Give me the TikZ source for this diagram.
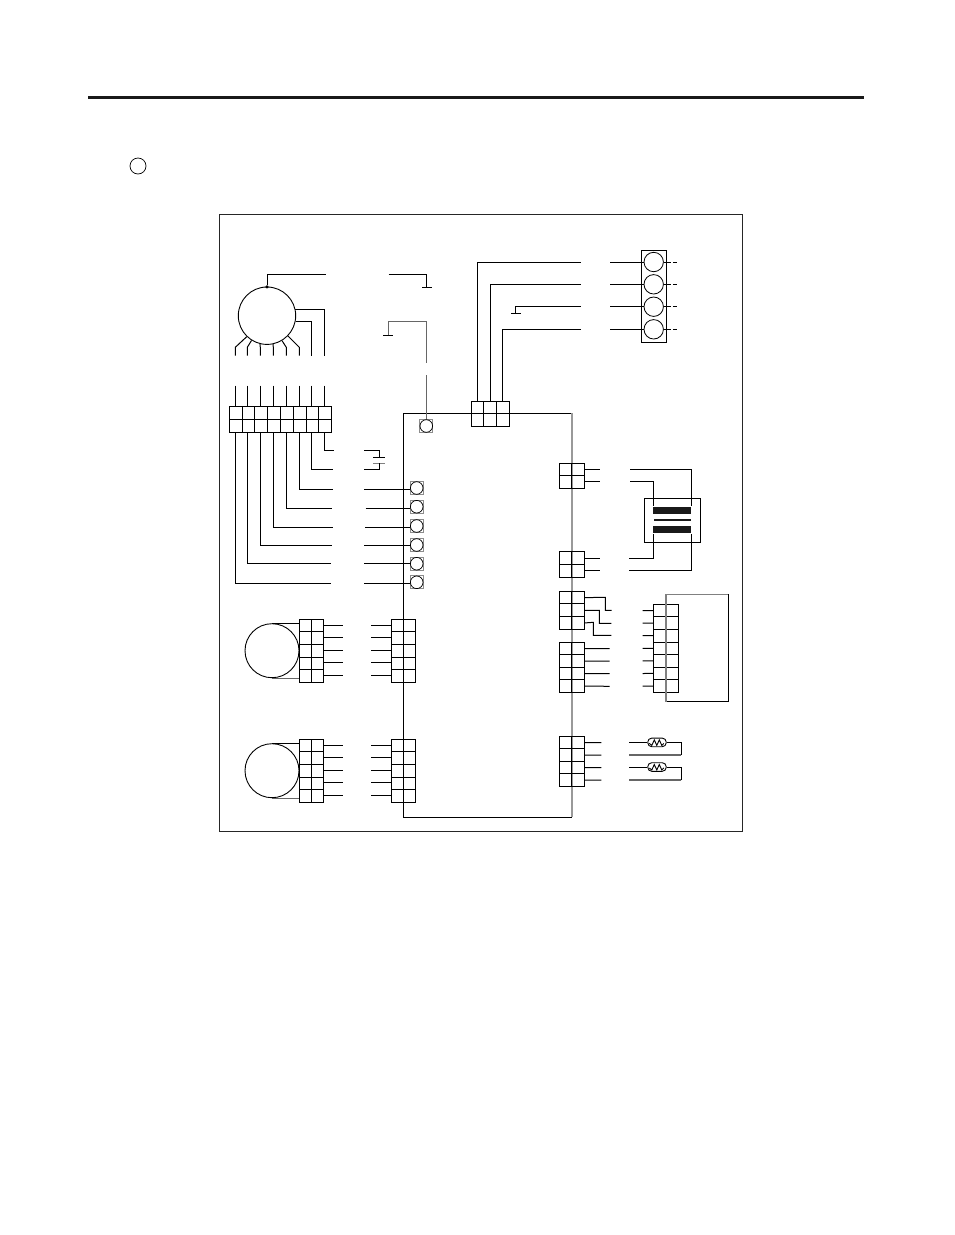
\documentclass[tikz,border=0pt]{standalone}

\begin{document}
\begin{tikzpicture}[x=1pt,y=-1pt]
	\tikzstyle{wire} = [line width=1pt, black]
	\tikzstyle{palewire} = [line width=1.3pt, black!60]
	\tikzstyle{cell} = [rectangle, draw=black, line width=1pt, inner sep=0pt, outer sep=0pt]
	\tikzstyle{plate} = [rectangle, fill=black, inner sep=0pt, minimum width=10pt, minimum height=1pt]
	\tikzstyle{coilbar} = [rectangle, fill=black!90, inner sep=0pt, minimum width=38pt]
	\tikzstyle{motor} = [circle, draw=black, line width=0.9pt, inner sep=0pt]
	\tikzstyle{socketbox} = [rectangle, draw=black!45, line width=1pt, inner sep=0pt, minimum size=13.3pt]
	\tikzstyle{socket} = [circle, draw=black, line width=0.7pt, inner sep=0pt, minimum size=12.6pt]
	\tikzstyle{lamp} = [circle, draw=black, line width=0.8pt, inner sep=0pt, minimum size=19.4pt]
	\tikzstyle{therm} = [rectangle, rounded corners=4pt, draw=black, line width=0.9pt, inner sep=0pt, minimum width=18.5pt, minimum height=8.6pt]

	\useasboundingbox (0,0) rectangle (954,1235);

%----------page rule, mark, frame------------------------------
	\coordinate (rulea) at (88,97);
	\coordinate (ruleb) at (864,97);
	\draw[line width=3pt, black!90] (rulea)--(ruleb);
	\node[circle, draw=black, line width=0.7pt, inner sep=0pt, minimum size=16pt] (mark) at (138,166) {};
	\draw[line width=0.9pt, black!85] (219.5,214.5) rectangle (742.5,831.5);

%----------board------------------------------------------------
	\coordinate (bnw) at (403.4,413.3);
	\coordinate (bne) at (571.8,413.3);
	\coordinate (bse) at (571.8,817.3);
	\coordinate (bsw) at (403.4,817.3);
	\draw[wire] (bne)--(bnw)--(bsw)--(bse);
	\draw[line width=1.6pt, black!40] (bne)--(bse);

%----------all connector blocks---------------------------------
	\foreach \b/\x/\y/\nc/\nr/\px/\py in {ja/229.3/406.3/8/2/12.8/13, jt/471.3/401.3/3/2/12.67/12.5,
		jra/559.3/463.3/2/2/12.5/12.5, jrb/559.3/551.3/2/2/12.5/13, jrc/559.3/591.3/2/3/12.5/12.67,
		jrd/559.3/642.3/2/4/12.5/12.5, jre/559.3/736.3/2/4/12.5/12.5, jf/653.3/604.3/2/7/12.5/12.57,
		jma/299/619.3/2/5/12.35/12.6, jpa/391.3/619.3/2/5/12.2/12.6,
		jmb/299/739.3/2/5/12.35/12.6, jpb/391.3/739.3/2/5/12.2/12.6}
		\foreach \c in {1,...,\nc}
			\foreach \r in {1,...,\nr}
				\node[cell, minimum width=\px pt, minimum height=\py pt] (\b-\c-\r) at ({\x+(\c-.5)*\px},{\y+(\r-.5)*\py}) {};

%----------big motor--------------------------------------------
	\node[motor, minimum size=57.4pt] (bigm) at (267,315.7) {};
	\node[circle, fill=black, inner sep=0pt, minimum size=3.4pt] (bigdot) at (267,286.9) {};
	\coordinate (bigt) at (326,274.3);
	\draw[wire] (bigdot) |- (bigt);

	\coordinate (bige1) at (324.3,355.5);
	\coordinate (bige2) at (311.5,355.5);
	\draw[wire] (bigm.13) -| (bige1);
	\draw[wire] (bigm.-12) -| (bige2);
	\foreach \a/\x [count=\i] in {226/235.3, 238.5/247.3, 256.5/260.3, 282.7/273.3, 301.6/286.3, 316/299.3}
	{
		\coordinate (bigk\i) at (\x,347.3);
		\coordinate (bigl\i) at (\x,355.5);
		\draw[wire] (bigm.\a)--(bigk\i)--(bigl\i);
	}

%----------wires of the long block-------------------------------
	\foreach \x [count=\i] in {235.3, 247.3, 260.3, 273.3, 286.3, 299.3, 311.5, 324.3}
	{
		\coordinate (jat\i) at (\x,385.7);
		\draw[wire] (jat\i)--(jat\i |- ja-\i-1.north);
	}
	\foreach \i/\x/\y/\e in {8/324.3/450.3/333.7, 7/311.5/469.3/332.7, 6/299.3/489.3/332.7, 5/286.3/508.3/332.3,
		4/273.3/527.3/332.5, 3/260.3/545.3/332, 2/247.3/563.3/331, 1/235.3/583.3/331}
	{
		\coordinate (jak\i) at (\x,\y);
		\coordinate (jae\i) at (\e,\y);
		\draw[wire] (jak\i |- ja-\i-2.south)--(jak\i)--(jae\i);
	}

%----------sockets on the board----------------------------------
	\foreach \i/\y/\w/\s in {1/488/489.3/364.3, 2/506.7/508.3/365.7, 3/526/527.3/365, 4/545/545.3/364.3, 5/563.7/563.3/364, 6/582.3/583.3/364}
	{
		\node[socketbox] (s\i) at (416.7,\y) {};
		\node[socket] (sc\i) at (416.7,\y) {};
		\coordinate (sl\i) at (\s,\w);
		\draw[wire] (sl\i)--(sl\i -| s\i.west);
	}
	\node[socketbox] (s0) at (426.3,426) {};
	\node[socket] (sc0) at (426.3,426) {};

%----------grounds and capacitor----------------------------------
	\coordinate (gaa) at (388.7,274.3);
	\node[plate] (gab) at (426.8,287.3) {};
	\draw[wire] (gaa) -| (gab.center);

	\node[plate] (gba) at (388.3,335.3) {};
	\coordinate (gbb) at (426.3,362.7);
	\coordinate (gbc) at (426.3,375);
	\draw[palewire] (gba.center) |- (gbb |- 0,321.7) -- (gbb);
	\draw[palewire] (gbc)--(s0.north);

	\coordinate (capa) at (364.3,450.3);
	\coordinate (capb) at (364.3,469.3);
	\node[plate, minimum width=12pt] (capc) at (379,457.3) {};
	\node[plate, minimum width=12pt, fill=black!50] (capd) at (379,463.3) {};
	\draw[wire] (capa) -| (capc.center);
	\draw[wire] (capb) -| (capd.center);

%----------top block and lamps------------------------------------
	\coordinate (lta) at (580.7,262.3);
	\coordinate (ltb) at (580.7,284.3);
	\coordinate (ltd) at (580.7,329);
	\coordinate (ltc) at (580.7,306.3);
	\draw[wire] (lta) -| (jt-1-1.north);
	\draw[wire] (ltb) -| (jt-2-1.north);
	\draw[wire] (ltd) -| (jt-3-1.north);
	\node[plate] (gc) at (515.7,313) {};
	\draw[wire] (ltc) -| (gc.center);

	\node[rectangle, draw=black, line width=1pt, inner sep=0pt, minimum width=24.6pt, minimum height=92pt] (lampbox) at (654,296.3) {};
	\foreach \i/\y in {1/262, 2/284.3, 3/306.7, 4/329.3}
	{
		\node[lamp] (l\i) at (653.7,\y) {};
		\coordinate (lw\i) at (610,\y);
		\coordinate (le\i) at (677.3,\y);
		\draw[wire] (lw\i)--(l\i.west);
		\draw[line width=1pt, dash pattern=on 6.7pt off 2.3pt on 5pt off 20pt] (l\i.east)--(le\i);
	}

%----------transformer--------------------------------------------
	\node[rectangle, draw=black, line width=1pt, inner sep=0pt, minimum width=56pt, minimum height=44pt] (trafo) at (672.3,520.3) {};
	\node[coilbar, minimum height=7.3pt] (coila) at (672.3,510.3) {};
	\node[coilbar, minimum height=2pt, minimum width=37pt] (core) at (672.5,520) {};
	\node[coilbar, minimum height=7pt] (coilb) at (672.3,529.8) {};

	\foreach \n/\r/\y in {a/1/469.3, b/2/481.3}
	{
		\coordinate (tl\n) at (600,\y);
		\draw[wire] (jra-2-\r.east |- tl\n)--(tl\n);
	}
	\foreach \n/\r/\y in {c/1/558.3, d/2/570.3}
	{
		\coordinate (tl\n) at (600,\y);
		\draw[wire] (jrb-2-\r.east |- tl\n)--(tl\n);
	}
	\coordinate (tra) at (630.3,469.3);
	\coordinate (trb) at (630.3,481.3);
	\coordinate (trc) at (629.3,558.3);
	\coordinate (trd) at (629.3,570.3);
	\draw[wire] (tra) -| (coila.north east);
	\draw[wire] (trb) -| (coila.north west);
	\draw[wire] (trc) -| (coilb.south west);
	\draw[wire] (trd) -| (coilb.south east);

%----------right blocks---------------------------------------------
	\coordinate (cka) at (605.3,597.3);
	\coordinate (ckb) at (599.3,610.3);
	\coordinate (ckc) at (593.3,622.3);
	\coordinate (cla) at (611.7,610.3);
	\coordinate (clb) at (611.3,623.3);
	\coordinate (clc) at (611.3,635.3);
	\draw[wire] (jrc-2-1.east) -- (cka) |- (cla);
	\draw[wire] (jrc-2-2.east) -- (ckb) |- (clb);
	\draw[wire] (jrc-2-3.east) -- (ckc) |- (clc);
	\foreach \r in {1,...,4}
	{
		\coordinate (cd\r) at (609.7,{648.5+(\r-1)*12.6});
		\draw[wire] (jrd-2-\r.east)--(cd\r);
	}
	\foreach \r in {1,...,7}
	{
		\coordinate (cf\r) at (642.7,{610.5+(\r-1)*12.6});
		\draw[wire] (cf\r)--(jf-1-\r.west);
	}
	\coordinate (fa) at (666,594.3);
	\coordinate (fb) at (728.3,594.3);
	\coordinate (fc) at (728.3,701.7);
	\coordinate (fd) at (666,701.7);
	\draw[wire] (fb)--(fc)--(fd);
	\draw[line width=1.3pt, black!50] (fd)--(fa)--(fb);

%----------thermistors-----------------------------------------------
	\foreach \r in {1,...,4}
	{
		\coordinate (ce\r) at (601.3,{742.5+(\r-1)*12.5});
		\draw[wire] (jre-2-\r.east)--(ce\r);
	}
	\foreach \i/\y/\v in {1/742.4/755, 2/767/780}
	{
		\node[therm] (th\i) at (657,\y) {};
		\coordinate (tha\i) at (629.3,\y);
		\coordinate (thb\i) at (681.3,\v);
		\coordinate (thc\i) at (629.3,\v);
		\draw[wire] (tha\i)--(th\i.west);
		\draw[line width=0.9pt] (th\i.east) -| (thb\i);
		\draw[palewire] (thb\i)--(thc\i);
		\draw[line width=0.9pt] (th\i.west) ++(2,1) -- ++(2.5,2) -- ++(2.5,-5.5) -- ++(2.5,5.5) -- ++(2.5,-5.5) -- ++(2.5,5.5) -- ++(2,-2);
	}

%----------small motors----------------------------------------------
	\foreach \n/\y/\t/\u in {a/650.7/623.7/678, b/770.7/743.7/797.7}
	{
		\node[motor, minimum size=54pt] (sm\n) at (272,\y) {};
		\draw[line width=0.9pt] (sm\n.north) -- (jm\n-1-1.west |- sm\n.north);
		\draw[line width=1pt, black!60] (sm\n.south) -- (jm\n-1-5.west |- sm\n.south);
		\foreach \r in {1,...,5}
		{
			\coordinate (sr\n\r) at (343,{\y-25.2+(\r-1)*12.45});
			\coordinate (sq\n\r) at (371,{\y-25.2+(\r-1)*12.45});
			\draw[wire] (jm\n-2-\r.east |- sr\n\r)--(sr\n\r);
			\draw[wire] (sq\n\r)--(sq\n\r -| jp\n-1-\r.west);
		}
	}

	\end{tikzpicture}
\end{document}
